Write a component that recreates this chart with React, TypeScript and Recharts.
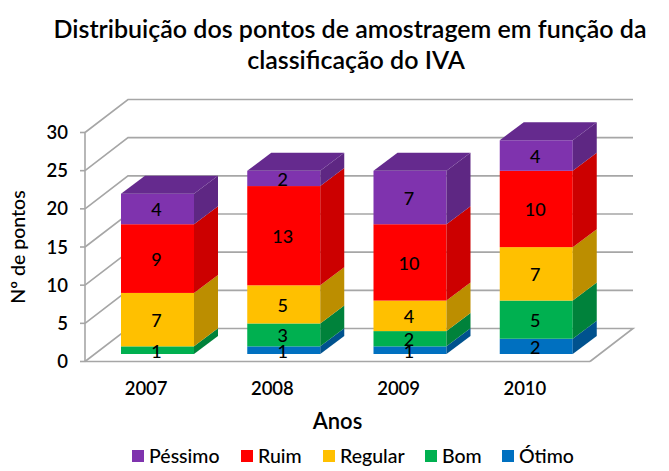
import React from 'react';
import { BarChart, Bar, XAxis, YAxis, CartesianGrid, Legend, LabelList } from 'recharts';

const years = ['2007', '2008', '2009', '2010'];
const otimo = [0, 1, 1, 2];
const bom = [1, 3, 2, 5];
const regular = [7, 5, 4, 7];
const ruim = [9, 13, 10, 10];
const pessimo = [4, 2, 7, 4];
const yTicks = [0, 5, 10, 15, 20, 25, 30];

const data = years.map((year, i) => ({
  year,
  otimo: otimo[i],
  bom: bom[i],
  regular: regular[i],
  ruim: ruim[i],
  pessimo: pessimo[i],
}));

const series = [
  { key: 'otimo', name: 'Ótimo', color: '#0070C0', side: '#00528E' },
  { key: 'bom', name: 'Bom', color: '#00B050', side: '#00823B' },
  { key: 'regular', name: 'Regular', color: '#FFC000', side: '#BC8E00' },
  { key: 'ruim', name: 'Ruim', color: '#FF0000', side: '#CC0000' },
  { key: 'pessimo', name: 'Péssimo', color: '#7F33AE', side: '#5E2783' },
];

const FONT = 'Lato, sans-serif';
const GRID = '#A6A6A6';
// bars stand on the floor, a bit behind the front edge
const BAR_DX = 9;
const BAR_DY = -7.5;
const DEPTH_X = 24;
const DEPTH_Y = 18;
// back wall offset
const WALL_X = 43;
const WALL_Y = 33;

const Box3D = (props: any) => {
  const { x, y, width, height, fill, side, top } = props;
  if (!height) return null;
  const l = x + BAR_DX;
  const r = l + width;
  const t = y + BAR_DY;
  const b = t + height;
  return (
    <g>
      <rect x={l} y={t} width={width} height={height} fill={fill} />
      <polygon
        points={`${r},${t} ${r + DEPTH_X},${t - DEPTH_Y} ${r + DEPTH_X},${b - DEPTH_Y} ${r},${b}`}
        fill={side}
      />
      {top && (
        <polygon
          points={`${l},${t} ${l + DEPTH_X},${t - DEPTH_Y} ${r + DEPTH_X},${t - DEPTH_Y} ${r},${t}`}
          fill="#652A8E"
        />
      )}
    </g>
  );
};

const WallLine = (props: any) => {
  const { x1, x2, y1, index } = props;
  const pts = [`${x1},${y1}`, `${x1 + WALL_X},${y1 - WALL_Y}`, `${x2 + WALL_X},${y1 - WALL_Y}`];
  // the lowest line closes the floor on the right
  if (y1 > 350) pts.push(`${x2},${y1}`);
  return <polyline key={index} points={pts.join(' ')} fill="none" stroke={GRID} strokeWidth={1.6} />;
};

const SegmentLabel = (props: any) => {
  const { x, y, width, height, value } = props;
  if (!value) return null;
  return (
    <text
      x={x + BAR_DX + width / 2 - 1}
      y={y + BAR_DY + height / 2 + 0.5}
      textAnchor="middle"
      dominantBaseline="central"
      fontFamily={FONT}
      fontSize={18}
      fontWeight={500}
      fill="#000"
    >
      {value}
    </text>
  );
};

const legendOffsets: Record<string, number> = {
  'Péssimo': 132,
  'Ruim': 241,
  'Regular': 323,
  'Bom': 425,
  'Ótimo': 502,
};

const LegendRow = ({ payload }: any) => (
  <div style={{ position: 'relative', width: 669, height: 24 }}>
    {(payload || []).map((item: any) => (
      <div
        key={item.value}
        style={{
          position: 'absolute',
          left: legendOffsets[item.value],
          top: 0,
          display: 'flex',
          alignItems: 'center',
          fontFamily: FONT,
          fontSize: 19.5,
          fontWeight: 500,
          color: '#000',
          whiteSpace: 'nowrap',
        }}
      >
        <span style={{ width: 12, height: 12, background: item.color, marginRight: 5 }} />
        {item.value}
      </div>
    ))}
  </div>
);

const titleStyle: React.CSSProperties = {
  position: 'absolute',
  left: 0,
  width: 700,
  textAlign: 'center',
  fontFamily: FONT,
  fontSize: 25,
  fontWeight: 600,
  color: '#000',
  whiteSpace: 'nowrap',
  lineHeight: '30px',
};

export default function App() {
  return (
    <div style={{ position: 'absolute', left: 0, top: 0, width: 669, height: 471, background: '#fff', overflow: 'hidden' }}>
      <div style={{ ...titleStyle, top: 13 }}>Distribuição dos pontos de amostragem em função da</div>
      <div style={{ ...titleStyle, top: 44, left: 6 }}>classificação do IVA</div>
      <BarChart
        width={669}
        height={471}
        data={data}
        barSize={73}
        margin={{ top: 132.5, right: 79, left: 0, bottom: 55.5 }}
      >
        <CartesianGrid vertical={false} horizontal={(p: any) => <WallLine {...p} />} />
        <XAxis
          dataKey="year"
          height={30}
          tickLine={false}
          axisLine={{ stroke: GRID, strokeWidth: 1.6 }}
          tick={{ fontFamily: FONT, fontSize: 18.5, fontWeight: 600, fill: '#000', dx: -2 }}
          tickMargin={14}
          label={{ value: 'Anos', position: 'insideBottom', offset: -37, fontFamily: FONT, fontSize: 22, fontWeight: 600, fill: '#000' }}
        />
        <YAxis
          width={85}
          domain={[0, 30]}
          ticks={yTicks}
          interval={0}
          tickSize={5}
          tickMargin={12}
          tickLine={{ stroke: GRID, strokeWidth: 1.6 }}
          axisLine={{ stroke: GRID, strokeWidth: 1.6 }}
          tick={{ fontFamily: FONT, fontSize: 18.5, fontWeight: 600, fill: '#000' }}
          label={{ value: 'Nº de pontos', angle: -90, position: 'insideLeft', offset: 18, style: { textAnchor: 'middle' }, fontFamily: FONT, fontSize: 19.5, fontWeight: 500, fill: '#000' }}
        />
        <Legend
          verticalAlign="bottom"
          content={(p: any) => <LegendRow payload={[...(p.payload || [])].reverse()} />}
          wrapperStyle={{ left: 0, top: 444, width: 669 }}
        />
        {series.map((s, i) => (
          <Bar
            key={s.key}
            dataKey={s.key}
            name={s.name}
            stackId="a"
            fill={s.color}
            isAnimationActive={false}
            shape={(p: any) => <Box3D {...p} fill={s.color} side={s.side} top={i === series.length - 1} />}
          >
            <LabelList dataKey={s.key} content={SegmentLabel} />
          </Bar>
        ))}
      </BarChart>
    </div>
  );
}
